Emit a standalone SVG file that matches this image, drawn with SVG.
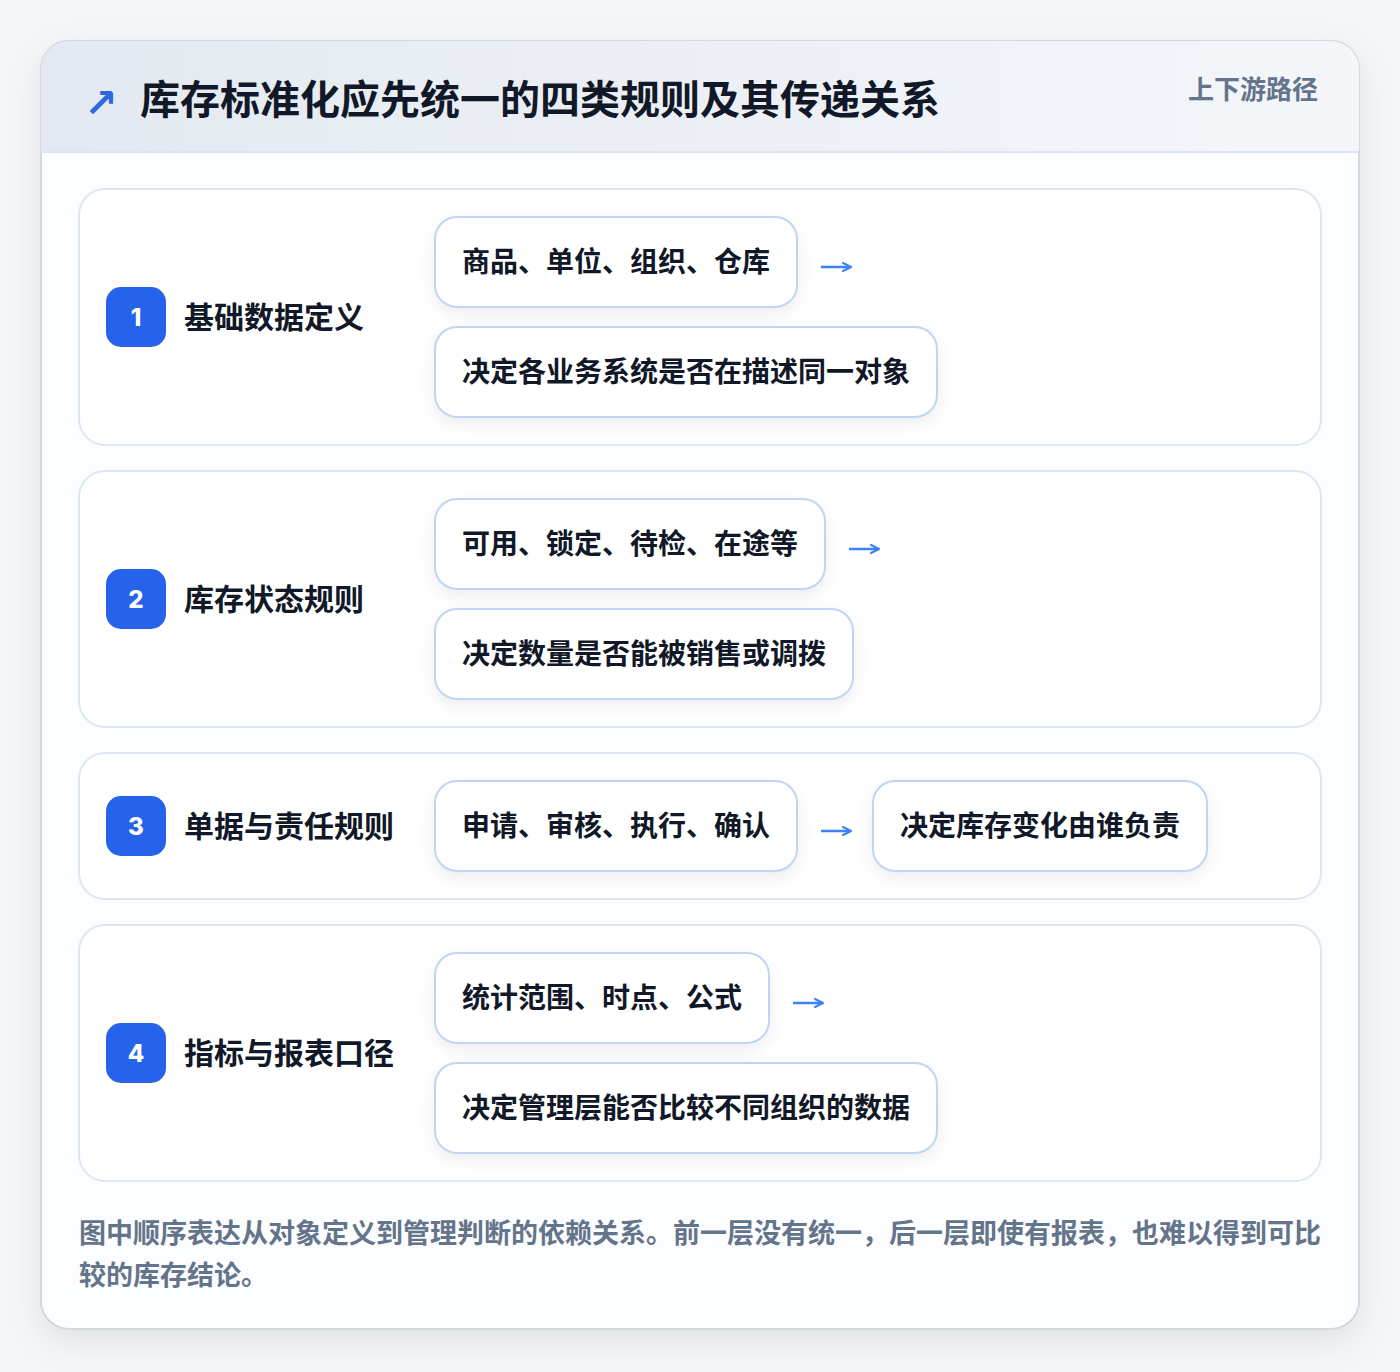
<svg xmlns="http://www.w3.org/2000/svg" width="1400" height="1372" viewBox="0 0 1400 1372">
<defs>
<linearGradient id="hdr" x1="0" y1="0" x2="1" y2="0">
<stop offset="0" stop-color="#e4e9f1"/>
<stop offset="1" stop-color="#f4f6fa"/>
</linearGradient>
<filter id="cardShadow" x="-10%" y="-10%" width="120%" height="120%">
<feDropShadow dx="0" dy="12" stdDeviation="16" flood-color="#0f172a" flood-opacity="0.08"/>
</filter>
<filter id="boxShadow" x="-10%" y="-20%" width="120%" height="150%">
<feDropShadow dx="0" dy="6" stdDeviation="8" flood-color="#0f172a" flood-opacity="0.07"/>
</filter>
<marker id="ah" viewBox="0 0 10 10" refX="9" refY="5" markerWidth="10" markerHeight="10" markerUnits="userSpaceOnUse" orient="auto">
<path d="M1,1 L9,5 L1,9" fill="none" stroke="#3b82f6" stroke-width="2" stroke-linecap="round" stroke-linejoin="round"/>
</marker>
<clipPath id="cardClip"><rect x="41" y="41" width="1318" height="1288" rx="28"/></clipPath>
<style>
.cjk{font-family:"Noto Sans CJK SC","Noto Sans",sans-serif;font-weight:700}
.title{font-size:40px;fill:#111827}
.sub{font-size:26px;fill:#64748b}
.row{fill:#ffffff;stroke:#dce7f6;stroke-width:2}
.badge{fill:#2563eb}
.num{font-family:Inter,"Noto Sans",sans-serif;font-weight:800;font-size:24px;fill:#ffffff}
.lbl{font-size:30px;fill:#111827}
.box{fill:#ffffff;stroke:#bfd5f3;stroke-width:2;filter:url(#boxShadow)}
.bt{font-size:28px;fill:#111827}
.arr{fill:none;stroke:#3b82f6;stroke-width:2.5;marker-end:url(#ah)}
.foot{font-size:27px;fill:#64748b}
</style>
</defs>
<rect width="1400" height="1372" fill="#f5f6f8"/>
<g id="card">
<rect x="41" y="41" width="1318" height="1288" rx="28" fill="#fcfdfe" stroke="#cfd8e3" stroke-width="2" filter="url(#cardShadow)"/>
<g clip-path="url(#cardClip)">
<rect x="41" y="41" width="1318" height="110" fill="url(#hdr)"/>
<rect x="41" y="151" width="1318" height="2" fill="#dbe6f5"/>
</g>
</g>
<g id="header">
<text x="84" y="117" font-size="40" fill="#2f67e0" font-family="DejaVu Sans,sans-serif" font-weight="700">↗</text>
<text x="140" y="114" class="cjk title">库存标准化应先统一的四类规则及其传递关系</text>
<text x="1318" y="99" class="cjk sub" text-anchor="end">上下游路径</text>
</g>
<g id="row1">
<rect x="79" y="189" width="1242" height="256" rx="26" class="row"/>
<rect x="106" y="287" width="60" height="60" rx="15" class="badge"/>
<text x="136" y="326" class="num" text-anchor="middle">1</text>
<text x="184" y="328" class="cjk lbl">基础数据定义</text>
</g>
<g id="row1-a">
<rect x="435" y="217" width="362" height="90" rx="22" class="box"/>
<text x="462" y="272" class="cjk bt">商品、单位、组织、仓库</text>
</g>
<g id="row1-b">
<rect x="435" y="327" width="502" height="90" rx="22" class="box"/>
<text x="462" y="382" class="cjk bt">决定各业务系统是否在描述同一对象</text>
</g>
<g id="row2">
<rect x="79" y="471" width="1242" height="256" rx="26" class="row"/>
<rect x="106" y="569" width="60" height="60" rx="15" class="badge"/>
<text x="136" y="608" class="num" text-anchor="middle">2</text>
<text x="184" y="610" class="cjk lbl">库存状态规则</text>
</g>
<g id="row2-a">
<rect x="435" y="499" width="390" height="90" rx="22" class="box"/>
<text x="462" y="554" class="cjk bt">可用、锁定、待检、在途等</text>
</g>
<g id="row2-b">
<rect x="435" y="609" width="418" height="90" rx="22" class="box"/>
<text x="462" y="664" class="cjk bt">决定数量是否能被销售或调拨</text>
</g>
<g id="row3">
<rect x="79" y="753" width="1242" height="146" rx="26" class="row"/>
<rect x="106" y="796" width="60" height="60" rx="15" class="badge"/>
<text x="136" y="835" class="num" text-anchor="middle">3</text>
<text x="184" y="837" class="cjk lbl">单据与责任规则</text>
</g>
<g id="row3-a">
<rect x="435" y="781" width="362" height="90" rx="22" class="box"/>
<text x="462" y="836" class="cjk bt">申请、审核、执行、确认</text>
</g>
<g id="row3-b">
<rect x="873" y="781" width="334" height="90" rx="22" class="box"/>
<text x="900" y="836" class="cjk bt">决定库存变化由谁负责</text>
</g>
<g id="row4">
<rect x="79" y="925" width="1242" height="256" rx="26" class="row"/>
<rect x="106" y="1023" width="60" height="60" rx="15" class="badge"/>
<text x="136" y="1062" class="num" text-anchor="middle">4</text>
<text x="184" y="1064" class="cjk lbl">指标与报表口径</text>
</g>
<g id="row4-a">
<rect x="435" y="953" width="334" height="90" rx="22" class="box"/>
<text x="462" y="1008" class="cjk bt">统计范围、时点、公式</text>
</g>
<g id="row4-b">
<rect x="435" y="1063" width="502" height="90" rx="22" class="box"/>
<text x="462" y="1118" class="cjk bt">决定管理层能否比较不同组织的数据</text>
</g>
<g id="connectors">
<line x1="821" y1="267" x2="851" y2="267" class="arr"/>
<line x1="849" y1="549" x2="879" y2="549" class="arr"/>
<line x1="821" y1="831" x2="851" y2="831" class="arr"/>
<line x1="793" y1="1003" x2="823" y2="1003" class="arr"/>
</g>
<g id="footer">
<text x="79" y="1243" class="cjk foot">图中顺序表达从对象定义到管理判断的依赖关系。前一层没有统一，后一层即使有报表，也难以得到可比</text>
<text x="79" y="1285" class="cjk foot">较的库存结论。</text>
</g>
</svg>
